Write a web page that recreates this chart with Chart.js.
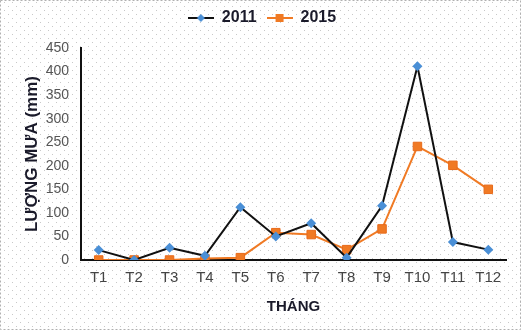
<!DOCTYPE html>
<html lang="vi">
<head>
    <meta charset="UTF-8">
    <title>Lượng mưa theo tháng</title>
    <script src="https://cdn.jsdelivr.net/npm/chart.js"></script>
    <style>
        body { margin: 0; background: #fff; }
        #rainChart { display: block; }
    </style>
</head>
<body>
    <canvas id="rainChart" width="521" height="330"></canvas>

    <script>
        // rainfall per month (mm)
        const months = ["T1", "T2", "T3", "T4", "T5", "T6", "T7", "T8", "T9", "T10", "T11", "T12"];
        const rain2011 = [21, 0, 26, 9, 112, 50, 78, 5, 115, 411, 38, 22];
        const rain2015 = [0, 0, 0, 3, 5, 58, 54, 22, 66, 241, 201, 150];
        const yTicks = [0, 50, 100, 150, 200, 250, 300, 350, 400, 450];

        const blue = "#4a8fd6";
        const orange = "#f07a24";
        const ink = "#1a1a2a";

        // small legend swatch: line with marker in the middle
        function swatch(lineColor, markerColor, shape) {
            let c = document.createElement("canvas");
            c.width = 26; c.height = 12;
            let g = c.getContext("2d");
            g.strokeStyle = lineColor;
            g.lineWidth = 2;
            g.beginPath(); g.moveTo(0, 6); g.lineTo(26, 6); g.stroke();
            g.fillStyle = markerColor;
            if (shape === "diamond") {
                g.beginPath(); g.moveTo(13, 2); g.lineTo(17, 6); g.lineTo(13, 10); g.lineTo(9, 6); g.closePath(); g.fill();
            } else {
                g.fillRect(9, 2, 8, 8);
            }
            return c;
        }

        // dotted paper background and dashed frame
        const paper = {
            id: "paper",
            beforeDraw(chart) {
                let ctx = chart.ctx;
                let w = chart.width, h = chart.height;
                ctx.save();
                ctx.fillStyle = "#ffffff";
                ctx.fillRect(0, 0, w, h);
                ctx.fillStyle = "#c8c8c8";
                for (let y = 2; y < h; y += 4) {
                    let off = (Math.floor(y / 4) % 2) * 4;
                    for (let x = 4 + off; x < w; x += 8) ctx.fillRect(x, y, 1, 1);
                }
                ctx.strokeStyle = "#b0b0b0";
                ctx.lineWidth = 1;
                ctx.setLineDash([2, 2]);
                ctx.strokeRect(0.5, 0.5, w - 1, h - 1);
                ctx.restore();
            }
        };

        // extra space under the legend
        const legendGap = {
            id: "legendGap",
            beforeInit(chart) {
                const fit = chart.legend.fit;
                chart.legend.fit = function () {
                    fit.bind(chart.legend)();
                    this.height += 12;
                };
            }
        };

        let ctx = document.getElementById("rainChart").getContext("2d");
        new Chart(ctx, {
            type: "line",
            data: {
                labels: months,
                datasets: [
                    {
                        label: "2011",
                        data: rain2011,
                        borderColor: "#111111",
                        borderWidth: 2,
                        pointStyle: "rectRot",
                        pointRadius: 5,
                        pointBackgroundColor: blue,
                        pointBorderColor: blue,
                        pointBorderWidth: 0,
                        tension: 0
                    },
                    {
                        label: "2015",
                        data: rain2015,
                        borderColor: orange,
                        borderWidth: 2,
                        pointStyle: "rect",
                        pointRadius: 6,
                        pointBackgroundColor: orange,
                        pointBorderColor: "#e86a1a",
                        pointBorderWidth: 1,
                        tension: 0
                    }
                ]
            },
            options: {
                responsive: false,
                animation: false,
                layout: { padding: { top: 0, left: 18, right: 15, bottom: 10 } },
                plugins: {
                    legend: {
                        position: "top",
                        labels: {
                            usePointStyle: true,
                            pointStyleWidth: 26,
                            color: ink,
                            font: { family: "Liberation Sans", size: 16, weight: "bold" },
                            padding: 10,
                            generateLabels: () => [
                                { text: "2011", pointStyle: swatch("#111111", blue, "diamond"), datasetIndex: 0, lineWidth: 0, fillStyle: "transparent", strokeStyle: "transparent", fontColor: ink },
                                { text: "2015", pointStyle: swatch(orange, orange, "square"), datasetIndex: 1, lineWidth: 0, fillStyle: "transparent", strokeStyle: "transparent", fontColor: ink }
                            ]
                        }
                    },
                    tooltip: { enabled: false }
                },
                scales: {
                    x: {
                        offset: true,
                        grid: { display: false, drawTicks: false },
                        border: { color: "#111111", width: 2 },
                        ticks: { color: "#444444", font: { family: "Liberation Sans", size: 15 }, padding: 9 },
                        title: {
                            display: true,
                            text: "THÁNG",
                            color: ink,
                            font: { family: "Liberation Sans", size: 15, weight: "bold" },
                            padding: { top: 3 }
                        },
                        afterFit: (scale) => { scale.height = 60; }
                    },
                    y: {
                        min: 0,
                        max: 450,
                        afterBuildTicks: (scale) => { scale.ticks = yTicks.map(v => ({ value: v })); },
                        grid: { display: false, drawTicks: false },
                        border: { color: "#111111", width: 2 },
                        ticks: { color: "#555555", font: { family: "Liberation Sans", size: 14 }, padding: 12 },
                        title: {
                            display: true,
                            text: "LƯỢNG MƯA (mm)",
                            color: ink,
                            font: { family: "Liberation Sans", size: 17, weight: "bold" },
                            padding: { bottom: 4 }
                        },
                        afterFit: (scale) => { scale.width = 63; }
                    }
                }
            },
            plugins: [paper, legendGap]
        });
    </script>
</body>
</html>
